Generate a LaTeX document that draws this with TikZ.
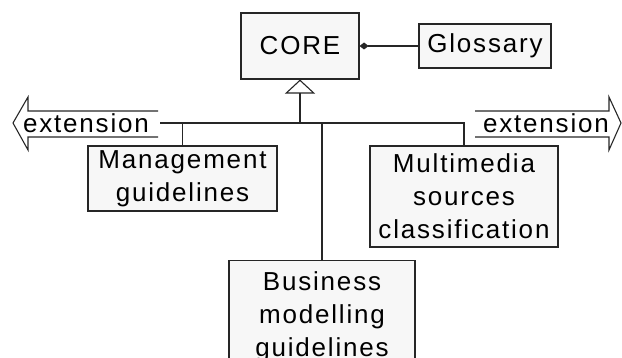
\documentclass[tikz,border=0pt]{standalone}
\usepackage{fontspec}
\setmainfont{Liberation Sans}[LetterSpace=7]
\usetikzlibrary{arrows.meta}
\begin{document}
\begin{tikzpicture}[x=1pt,y=-1pt,
  line width=1.1pt,
  every node/.style={font=\fontsize{26}{33}\selectfont, inner sep=0pt},
  umlbox/.style={draw=black!85, fill=black!3, align=center},
  conn/.style={draw=black!85},
  extarrow/.style={draw=black!85, line join=miter}]
  \useasboundingbox (0,0) rectangle (622,358);
  \begin{scope}
  \clip (0,0) rectangle (622,358);

  % classes
  \node[umlbox, minimum width=118, minimum height=66] (core) at (300,46) {CORE};
  \node[umlbox, minimum width=132, minimum height=44] (glossary) at (485,46) {Glossary};
  \node[umlbox, minimum width=189, minimum height=65] (mgmt) at (182.5,178.5)
    {Management\\guidelines};
  \node[umlbox, minimum width=188, minimum height=101] (multi) at (464,196.5)
    {Multimedia\\sources\\classification};
  \node[umlbox, minimum width=186, minimum height=112, anchor=north, inner ysep=8pt]
    (business) at (322,260) {Business\\modelling\\guidelines};

  % composition: CORE owns the glossary
  \draw[conn, {Diamond[length=9pt,width=7pt]}-] (core.east) -- (glossary.west);

  % generalisation tree
  \coordinate (busL) at (160,123);
  \coordinate (bus) at (300,123);
  \draw[conn, -{Triangle[open, length=14pt, width=30pt, fill=white]}] (bus) -- (core.south);
  \draw[conn] (busL) -- (multi.north |- busL) -- (multi.north);
  \draw[conn] (mgmt.north |- busL) -- (mgmt.north);
  \draw[conn] (business.north |- busL) -- (business.north);

  % open-ended extension arrows
  \node (extL) at (86,123) {extension};
  \node (extR) at (546,123) {extension};
  \draw[extarrow] (158,111) -- (28,111) -- (28,97) -- (13,123) -- (28,150) -- (28,137) -- (158,137);
  \draw[extarrow] (475,111) -- (609,111) -- (609,97) -- (621,123) -- (609,150) -- (609,137) -- (475,137);
  \end{scope}
\end{tikzpicture}
\end{document}
